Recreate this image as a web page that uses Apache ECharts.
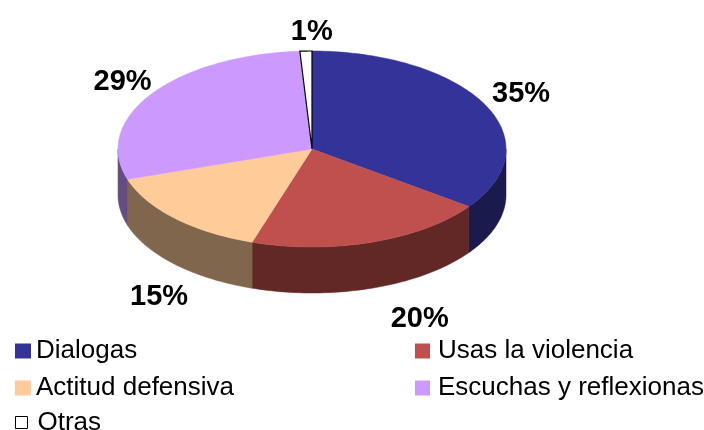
<!DOCTYPE html>
<html>
<head>
<meta charset="utf-8">
<script src="https://cdn.jsdelivr.net/npm/echarts@6/dist/echarts.min.js"></script>
<style>
  html, body { margin: 0; padding: 0; background: #fff; }
  #pie3d { width: 704px; height: 430px; }
</style>
</head>
<body>
<div id="pie3d"></div>
<script>
  // datos
  const categories = ['Dialogas', 'Usas la violencia', 'Actitud defensiva', 'Escuchas y reflexionas', 'Otras'];
  const values = [35, 20, 15, 29, 1];
  const topColors = ['#333399', '#c0504d', '#ffcc99', '#cc99ff', '#ffffff'];
  const sideColors = ['#1a1a4d', '#612826', '#80664d', '#664d80', '#808080'];

  // geometria del pastel "3D"
  const cx = 312, cy = 149, rx = 194, ry = 98, depth = 46;
  const font = '"Liberation Sans", Arial, sans-serif';
  // ajuste fino de las etiquetas (px), como el "mejor ajuste" de Excel
  const labelNudge = [[5, 1], [37, 7], [9, 15], [0, 2], [7, 6]];

  const total = values.reduce((a, b) => a + b, 0);
  const starts = [];
  let acc = 0;
  values.forEach(v => { starts.push(acc); acc += v; });

  function pt(t, dy) {
    return [cx + rx * Math.sin(t), cy - ry * Math.cos(t) + (dy || 0)];
  }

  function sideItem(params, api) {
    const i = params.dataIndex;
    const a0 = starts[i] / total * Math.PI * 2;
    const a1 = (starts[i] + api.value(0)) / total * Math.PI * 2;
    const lo = Math.max(a0, Math.PI / 2), hi = Math.min(a1, Math.PI * 1.5);
    if (hi <= lo) return null;
    const pts = [];
    const n = 60;
    for (let k = 0; k <= n; k++) pts.push(pt(lo + (hi - lo) * k / n));
    for (let k = n; k >= 0; k--) pts.push(pt(lo + (hi - lo) * k / n, depth));
    return {
      type: 'polygon',
      shape: { points: pts },
      style: { fill: sideColors[i], stroke: sideColors[i], lineWidth: 0.5 }
    };
  }

  function topItem(params, api) {
    const i = params.dataIndex;
    const v = api.value(0);
    const a0 = starts[i] / total * Math.PI * 2;
    const a1 = (starts[i] + v) / total * Math.PI * 2;
    const pts = [[cx, cy]];
    const n = Math.max(4, Math.round(v * 3));
    for (let k = 0; k <= n; k++) pts.push(pt(a0 + (a1 - a0) * k / n));
    const isWhite = topColors[i] === '#ffffff';
    // etiqueta de porcentaje fuera del pastel
    const m = (a0 + a1) / 2;
    let lx = cx + (rx + 35) * Math.sin(m) + labelNudge[i][0];
    let ly = cy - (ry + 25) * Math.cos(m) + labelNudge[i][1];
    if (Math.cos(m) < 0) ly += depth;
    return {
      type: 'group',
      children: [
        {
          type: 'polygon',
          shape: { points: pts },
          style: {
            fill: topColors[i],
            stroke: isWhite ? '#000' : topColors[i],
            lineWidth: isWhite ? 1.2 : 0.5
          }
        },
        {
          type: 'text',
          x: lx, y: ly, z2: 10,
          style: {
            text: Math.round(v / total * 100) + '%',
            fontSize: 29, fontWeight: 'bold', fontFamily: font,
            fill: '#000', align: 'center', verticalAlign: 'middle'
          }
        }
      ]
    };
  }

  const chart = echarts.init(document.getElementById('pie3d'));
  const seriesData = categories.map((c, i) => ({ name: c, value: values[i] }));
  const legendText = { fontSize: 26, fontFamily: font, color: '#000', lineHeight: 26, padding: [0, 0, 8, 0] };
  const legendItem = i => ({
    name: categories[i],
    itemStyle: i === 4
      ? { color: '#fff', borderColor: '#000', borderWidth: 1, opacity: 1 }
      : { color: topColors[i], borderWidth: 0, opacity: 1 }
  });

  chart.setOption({
    animation: false,
    legend: [
      {
        left: 15, top: 334, orient: 'vertical', padding: 0, itemGap: 3,
        icon: 'rect', itemWidth: 16, itemHeight: 15, selectedMode: false,
        textStyle: legendText, data: [legendItem(0), legendItem(2)]
      },
      {
        left: 415, top: 334, orient: 'vertical', padding: 0, itemGap: 3,
        icon: 'rect', itemWidth: 15, itemHeight: 15, selectedMode: false,
        textStyle: Object.assign({}, legendText, { padding: [0, 0, 8, 3] }),
        data: [legendItem(1), legendItem(3)]
      },
      {
        left: 15, top: 408, orient: 'vertical', padding: 0,
        icon: 'rect', itemWidth: 12, itemHeight: 12, selectedMode: false,
        textStyle: Object.assign({}, legendText, { padding: [0, 0, 3, 5] }),
        data: [legendItem(4)]
      }
    ],
    series: [
      {
        // solo para la leyenda
        type: 'pie', radius: [0, 0], center: [cx, cy], silent: true,
        label: { show: false }, labelLine: { show: false },
        itemStyle: { opacity: 0 },
        data: seriesData.map((d, i) => Object.assign({ itemStyle: { color: topColors[i] } }, d))
      },
      {
        type: 'custom', coordinateSystem: 'none', silent: true, z: 1,
        renderItem: sideItem, data: values
      },
      {
        type: 'custom', coordinateSystem: 'none', silent: true, z: 2,
        renderItem: topItem, data: values
      }
    ]
  });
</script>
</body>
</html>
